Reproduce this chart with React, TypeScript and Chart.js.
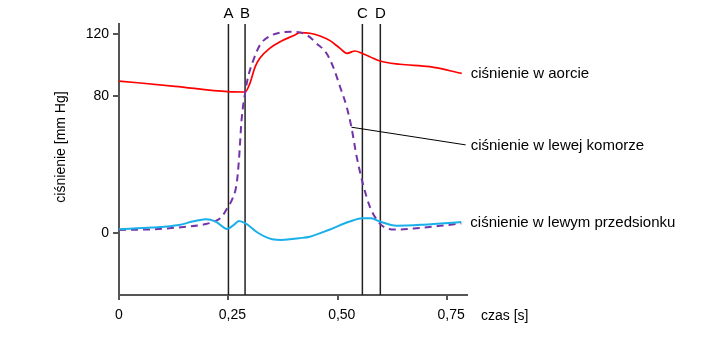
import React, { useEffect, useRef } from 'react';
import { Chart, registerables, LinearScale } from 'chart.js';

// ---- data (time in s, pressure in mm Hg) ----
const aortaTime = [0, 0.128, 0.249, 0.288, 0.299, 0.311, 0.322, 0.345, 0.368, 0.402, 0.413, 0.436, 0.459, 0.482, 0.505, 0.521, 0.539, 0.555, 0.573, 0.596, 0.642, 0.71, 0.783];
const aortaPressure = [89.7, 86.3, 82.8, 82.6, 88.2, 98.9, 104.6, 111.1, 115.2, 119.6, 121.1, 120.7, 118.9, 115.9, 110.9, 107.7, 109.2, 107.7, 105.5, 102.7, 100.6, 99.0, 94.7];

const ventricleTime = [0, 0.075, 0.153, 0.199, 0.221, 0.235, 0.249, 0.258, 0.269, 0.274, 0.28, 0.288, 0.295, 0.307, 0.322, 0.345, 0.368, 0.397, 0.429, 0.451, 0.474, 0.489, 0.505, 0.52, 0.531, 0.543, 0.558, 0.573, 0.592, 0.611, 0.634, 0.68, 0.733, 0.782];
const ventriclePressure = [1.9, 2.3, 3.8, 5.4, 7.2, 9.7, 15.5, 19.4, 29.3, 42.7, 66, 81.9, 92.5, 103.3, 113.1, 118.9, 121.1, 121.7, 119.6, 114.2, 107.7, 99.0, 86.0, 73.8, 61.8, 44.6, 28.1, 15.5, 6.8, 2.9, 2.2, 2.9, 4.3, 5.7];

const atriumTime = [0, 0.075, 0.137, 0.168, 0.198, 0.221, 0.247, 0.262, 0.274, 0.289, 0.319, 0.35, 0.372, 0.39, 0.411, 0.436, 0.482, 0.527, 0.557, 0.576, 0.596, 0.634, 0.695, 0.782];
const atriumPressure = [2.3, 3.3, 4.8, 6.8, 8.2, 6.8, 2.5, 4.8, 7.2, 5.8, 0, -3.5, -3.9, -3.5, -2.9, -2.0, 2.2, 6.8, 8.7, 8.7, 6.8, 4.4, 5.0, 6.6];

const leaderTime = [0.531, 0.792];
const leaderPressure = [61.8, 51.5];

const eventLabels = ['A', 'B', 'C', 'D'];
const eventTimes = [0.25, 0.288, 0.556, 0.597];

const xTicks = [0, 0.25, 0.5, 0.75];
const xTickLabels = ['0', '0,25', '0,50', '0,75'];
const yTicks = [0, 80, 120];

const seriesLabels = ['ciśnienie w aorcie', 'ciśnienie w lewej komorze', 'ciśnienie w lewym przedsionku'];
const xTitle = 'czas [s]';
const yTitle = 'ciśnienie [mm Hg]';

const X_MIN = 0;
const X_MAX = 0.795;
const Y_MIN = -36;
const Y_MAX = 126.7;

const FONT = "'Liberation Sans', Arial, sans-serif";

// The reference's pressure axis is drawn with a compressed segment above 80 mm Hg
const BREAK = 80;
const UPPER_RATIO = 1.542 / 1.716;
const warp = (v: number) => (v <= BREAK ? v : BREAK + (v - BREAK) * UPPER_RATIO);
const unwarp = (u: number) => (u <= BREAK ? u : BREAK + (u - BREAK) / UPPER_RATIO);

class BrokenScale extends LinearScale {
  static id = 'broken';
  static defaults = (LinearScale as any).defaults;
  getPixelForValue(value: any) {
    if (value === null || value === undefined) return NaN;
    const lo = warp(this.min);
    const hi = warp(this.max);
    return this.getPixelForDecimal((warp(value) - lo) / (hi - lo));
  }
  getValueForPixel(pixel: number) {
    const lo = warp(this.min);
    const hi = warp(this.max);
    return unwarp(lo + this.getDecimalForPixel(pixel) * (hi - lo));
  }
}

Chart.register(...registerables, BrokenScale as any);

const zip = (xs: number[], ys: number[]) => xs.map((x, i) => ({ x, y: ys[i] }));

const annotationPlugin = {
  id: 'annotationText',
  afterDraw(chart: any) {
    const { ctx, chartArea } = chart;
    const xs = chart.scales.x;
    const ys = chart.scales.y;
    ctx.save();
    ctx.fillStyle = '#000';
    ctx.textBaseline = 'middle';

    // event letters
    ctx.font = `15px ${FONT}`;
    ctx.textAlign = 'center';
    eventLabels.forEach((l, i) => {
      ctx.fillText(l, xs.getPixelForValue(eventTimes[i]), chartArea.top - 10);
    });

    // x tick labels (decimal comma aligned on the tick)
    ctx.font = `14px ${FONT}`;
    xTicks.forEach((t, i) => {
      const lab = xTickLabels[i];
      const px = xs.getPixelForValue(t);
      const comma = lab.indexOf(',');
      if (comma < 0) {
        ctx.textAlign = 'center';
        ctx.fillText(lab, px, chartArea.bottom + 20);
      } else {
        ctx.textAlign = 'left';
        const pre = ctx.measureText(lab.slice(0, comma)).width + ctx.measureText(',').width / 2;
        ctx.fillText(lab, px - pre, chartArea.bottom + 20);
      }
    });

    // x title
    ctx.textAlign = 'left';
    ctx.fillText(xTitle, chartArea.right + 14, chartArea.bottom + 21);

    // y title
    ctx.save();
    ctx.font = `14px ${FONT}`;
    ctx.translate(61, 147);
    ctx.rotate(-Math.PI / 2);
    ctx.textAlign = 'center';
    ctx.fillText(yTitle, 0, 0);
    ctx.restore();

    // series labels
    ctx.font = `15px ${FONT}`;
    ctx.textAlign = 'left';
    const ends = [
      [aortaTime[aortaTime.length - 1], aortaPressure[aortaPressure.length - 1], 9],
      [leaderTime[leaderTime.length - 1], leaderPressure[leaderPressure.length - 1], 5],
      [atriumTime[atriumTime.length - 1], atriumPressure[atriumPressure.length - 1], 9],
    ];
    ends.forEach(([t, p, off], i) => {
      ctx.fillText(seriesLabels[i], xs.getPixelForValue(t) + off, ys.getPixelForValue(p) + 1);
    });
    ctx.restore();
  },
};

export default function App() {
  const canvasRef = useRef<HTMLCanvasElement | null>(null);

  useEffect(() => {
    if (!canvasRef.current) return;
    const eventSets = eventTimes.map((t) => ({
      data: [
        { x: t, y: Y_MIN },
        { x: t, y: Y_MAX },
      ],
      borderColor: '#222',
      borderWidth: 1.5,
      pointRadius: 0,
      tension: 0,
    }));
    const chart = new Chart(canvasRef.current, {
      type: 'line',
      data: {
        datasets: [
          {
            data: zip(atriumTime, atriumPressure),
            borderColor: '#19b0ea',
            borderWidth: 2,
            pointRadius: 0,
            cubicInterpolationMode: 'monotone',
          },
          {
            data: zip(ventricleTime, ventriclePressure),
            borderColor: '#7434a8',
            borderWidth: 2,
            borderDash: [7, 5],
            pointRadius: 0,
            cubicInterpolationMode: 'monotone',
          },
          {
            data: zip(aortaTime, aortaPressure),
            borderColor: '#ff0000',
            borderWidth: 1.7,
            pointRadius: 0,
            cubicInterpolationMode: 'monotone',
          },
          {
            data: zip(leaderTime, leaderPressure),
            borderColor: '#000',
            borderWidth: 1,
            pointRadius: 0,
            tension: 0,
          },
          ...eventSets,
        ] as any,
      },
      options: {
        responsive: false,
        animation: false,
        events: [],
        layout: { padding: { left: 0, right: 258, top: 24, bottom: 0 } },
        plugins: { legend: { display: false }, tooltip: { enabled: false }, title: { display: false } },
        scales: {
          x: {
            type: 'linear',
            min: X_MIN,
            max: X_MAX,
            afterBuildTicks: (s: any) => {
              s.ticks = xTicks.map((v) => ({ value: v }));
            },
            afterFit: (s: any) => {
              s.height = 42;
            },
            ticks: { display: false },
            grid: { drawOnChartArea: false, drawTicks: true, tickLength: 5, color: '#555', lineWidth: 2 },
            border: { display: true, color: '#555', width: 2 },
          },
          y: {
            type: 'broken' as any,
            min: Y_MIN,
            max: Y_MAX,
            afterBuildTicks: (s: any) => {
              s.ticks = yTicks.map((v) => ({ value: v }));
            },
            afterFit: (s: any) => {
              s.width = 119;
            },
            ticks: { color: '#000', font: { family: FONT, size: 14 }, padding: 4 },
            grid: { drawOnChartArea: false, drawTicks: true, tickLength: 6, color: '#555', lineWidth: 2 },
            border: { display: true, color: '#555', width: 2 },
          },
        },
      } as any,
      plugins: [annotationPlugin],
    });
    return () => chart.destroy();
  }, []);

  return (
    <div style={{ position: 'absolute', left: 0, top: 0, width: 725, height: 337, background: '#fff' }}>
      <canvas ref={canvasRef} width={725} height={337} />
    </div>
  );
}
